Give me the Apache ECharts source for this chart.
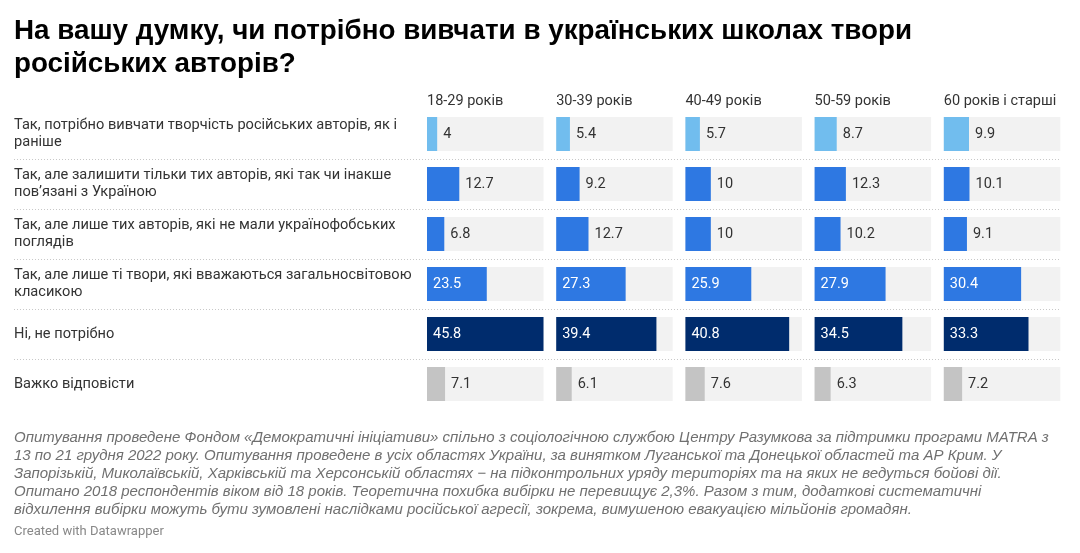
<!DOCTYPE html>
<html>
<head>
<meta charset="utf-8">
<script src="https://cdn.jsdelivr.net/npm/echarts@6/dist/echarts.min.js"></script>
<style>
  html, body { margin: 0; padding: 0; background: #fff; }
  #chart { width: 1080px; height: 553px; }
</style>
</head>
<body>
<div id="chart"></div>
<script>
(function(win) {

    var answers = [
            'Так, потрібно вивчати творчість російських авторів, як і\nраніше',
            'Так, але залишити тільки тих авторів, які так чи інакше\nповʼязані з Україною',
            'Так, але лише тих авторів, які не мали українофобських\nпоглядів',
            'Так, але лише ті твори, які вважаються загальносвітовою\nкласикою',
            'Ні, не потрібно',
            'Важко відповісти'
        ],
        ageGroups = ['18-29 років', '30-39 років', '40-49 років', '50-59 років', '60 років і старші'],
        age18_29 = [4, 12.7, 6.8, 23.5, 45.8, 7.1],
        age30_39 = [5.4, 9.2, 12.7, 27.3, 39.4, 6.1],
        age40_49 = [5.7, 10, 10, 25.9, 40.8, 7.6],
        age50_59 = [8.7, 12.3, 10.2, 27.9, 34.5, 6.3],
        age60plus = [9.9, 10.1, 9.1, 30.4, 33.3, 7.2],
        columns = [age18_29, age30_39, age40_49, age50_59, age60plus];

    var rowColors = ['#71bdee', '#2e78e2', '#2e78e2', '#2e78e2', '#002c6d', '#c4c4c4'],
        colLeft = 427,
        colStep = 129.2,
        colWidth = 116.5,
        gridTop = 109,
        gridHeight = 300,
        rowFont = 'Roboto',
        maxValue = Math.max.apply(null, [].concat.apply([], columns));

    var footnote = [
        'Опитування проведене Фондом «Демократичні ініціативи» спільно з соціологічною службою Центру Разумкова за підтримки програми MATRA з',
        '13 по 21 грудня 2022 року. Опитування проведене в усіх областях України, за винятком Луганської та Донецької областей та АР Крим. У',
        'Запорізькій, Миколаївській, Харківській та Херсонській областях − на підконтрольних уряду територіях та на яких не ведуться бойові дії.',
        'Опитано 2018 респондентів віком від 18 років. Теоретична похибка вибірки не перевищує 2,3%. Разом з тим, додаткові систематичні',
        'відхилення вибірки можуть бути зумовлені наслідками російської агресії, зокрема, вимушеною евакуацією мільйонів громадян.'
    ].join('\n');

    var grids = [], xAxes = [], yAxes = [], series = [], titles = [];

    titles.push({
        text: 'На вашу думку, чи потрібно вивчати в українських школах твори\nросійських авторів?',
        left: 14,
        top: 15,
        padding: 0,
        textStyle: {
            fontFamily: 'Liberation Sans',
            fontWeight: 'bold',
            fontSize: 27.8,
            lineHeight: 33,
            color: '#000'
        }
    });

    columns.forEach(function(values, i) {
        var left = colLeft + i * colStep;

        titles.push({
            text: ageGroups[i],
            left: left,
            top: 94,
            padding: 0,
            textStyle: { fontFamily: rowFont, fontWeight: 'normal', fontSize: 14.5, color: '#333' }
        });

        grids.push({ left: left, top: gridTop, width: colWidth, height: gridHeight });

        xAxes.push({
            type: 'value',
            gridIndex: i,
            min: 0,
            max: maxValue,
            show: false
        });

        yAxes.push({
            type: 'category',
            gridIndex: i,
            data: answers,
            inverse: true,
            axisLine: { show: false },
            axisTick: { show: false },
            axisLabel: {
                show: i === 0,
                align: 'left',
                margin: left - 14,
                padding: [4, 0, 0, 0],
                fontFamily: rowFont,
                fontSize: 14.6,
                lineHeight: 17,
                color: '#333'
            }
        });

        series.push({
            type: 'bar',
            xAxisIndex: i,
            yAxisIndex: i,
            barWidth: 34,
            showBackground: true,
            backgroundStyle: { color: '#f2f2f2' },
            animation: false,
            data: values.map(function(v, r) {
                var inside = v >= 20;
                return {
                    value: v,
                    itemStyle: { color: rowColors[r] },
                    label: {
                        show: true,
                        position: inside ? 'insideLeft' : 'right',
                        distance: 6,
                        color: inside ? '#fff' : '#333',
                        fontFamily: rowFont,
                        fontSize: 14.5
                    }
                };
            })
        });
    });

    // dotted row separators across the whole table
    var sep = columns.length;
    grids.push({ left: 14, top: gridTop, width: 1046, height: gridHeight });
    xAxes.push({ type: 'value', gridIndex: sep, show: false, min: 0, max: 1 });
    yAxes.push({
        type: 'value',
        gridIndex: sep,
        min: 0,
        max: answers.length,
        interval: 1,
        inverse: true,
        axisLine: { show: false },
        axisTick: { show: false },
        axisLabel: { show: false },
        splitLine: {
            show: true,
            showMinLine: false,
            showMaxLine: false,
            lineStyle: { type: [1, 2], color: '#c8c8c8', width: 1 }
        }
    });

    titles.push({
        text: footnote,
        left: 14,
        top: 429,
        padding: 0,
        textStyle: {
            fontFamily: 'Liberation Sans',
            fontStyle: 'italic',
            fontWeight: 'normal',
            fontSize: 15,
            lineHeight: 18,
            color: '#707070'
        }
    });

    titles.push({
        text: 'Created with Datawrapper',
        left: 14,
        top: 525,
        padding: 0,
        textStyle: { fontFamily: rowFont, fontWeight: 'normal', fontSize: 13, color: '#888' }
    });

    var chart = echarts.init(document.getElementById('chart'));
    chart.setOption({
        backgroundColor: '#fff',
        animation: false,
        title: titles,
        grid: grids,
        xAxis: xAxes,
        yAxis: yAxes,
        series: series
    });

}(this));
</script>
</body>
</html>
